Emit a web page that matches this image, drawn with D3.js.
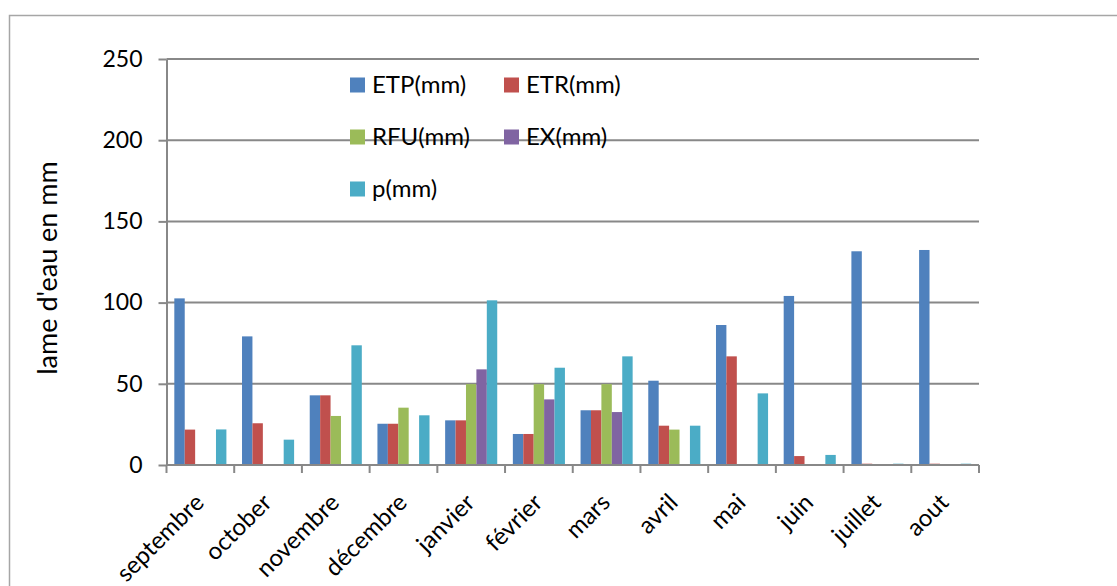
<!DOCTYPE html>
<html>
<head>
<meta charset="utf-8">
<script src="https://cdn.jsdelivr.net/npm/d3@7"></script>
<style>
  html, body { margin: 0; padding: 0; background: #fff; }
  svg { display: block; font-family: Lato, "Open Sans", sans-serif; }
</style>
</head>
<body>
<svg id="chart" width="1117" height="586"></svg>
<script>
// Monthly water balance (mm)
const months = ["septembre", "october", "novembre", "décembre", "janvier", "février",
                "mars", "avril", "mai", "juin", "juillet", "aout"];
const seriesNames = ["ETP(mm)", "ETR(mm)", "RFU(mm)", "EX(mm)", "p(mm)"];
const etp = [102.6, 79.2, 42.9, 25.4, 27.5, 19.1, 33.7, 51.9, 86.2, 104.1, 131.6, 132.4];
const etr = [21.8, 25.7, 42.9, 25.4, 27.5, 19.1, 33.7, 24.2, 66.9, 5.5, 0.8, 0.8];
const rfu = [0, 0, 30.2, 35.3, 49.8, 49.8, 49.8, 21.8, 0, 0, 0, 0];
const ex  = [0, 0, 0, 0, 58.9, 40.4, 32.6, 0, 0, 0, 0, 0];
const p   = [21.9, 15.6, 73.7, 30.6, 101.4, 59.9, 66.9, 24.2, 44.1, 6.2, 0.8, 0.8];
const yTicks = [0, 50, 100, 150, 200, 250];
const colors = ["#4F81BD", "#C0504D", "#9BBB59", "#8064A2", "#4BACC6"];
const yTitle = "lame d'eau en mm";

const seriesValues = [etp, etr, rfu, ex, p];

const svg = d3.select("#chart");
const plot = { left: 166.5, right: 979, top: 59, bottom: 465 };
const gridColor = "#888888";
const font = "Lato, 'Open Sans', sans-serif";

// outer chart frame
svg.append("rect")
  .attr("x", 9.5).attr("y", 15.5)
  .attr("width", 1200).attr("height", 700)
  .attr("fill", "none").attr("stroke", "#a6a6a6").attr("stroke-width", 1.5);

const x = d3.scaleBand().domain(months).range([plot.left, plot.right]).paddingInner(0).paddingOuter(0);
const y = d3.scaleLinear().domain([0, 250]).range([plot.bottom, plot.top]);

// bar layout inside each month: 150% gap width
const step = x.step();
const bw = step / (seriesNames.length + 1.5);
const inner = d3.scaleBand().domain(d3.range(seriesNames.length))
  .range([0.75 * bw, 0.75 * bw + bw * seriesNames.length]).padding(0);

// horizontal gridlines
svg.append("g").selectAll("line").data(yTicks.filter(d => d > 0)).join("line")
  .attr("x1", plot.left).attr("x2", plot.right)
  .attr("y1", d => y(d)).attr("y2", d => y(d))
  .attr("stroke", gridColor).attr("stroke-width", 2);

// bars
const groups = svg.append("g").selectAll("g").data(months).join("g")
  .attr("transform", d => `translate(${x(d)},0)`);
groups.selectAll("rect")
  .data((m, i) => seriesValues.map((vals, s) => ({ s, v: vals[i] })))
  .join("rect")
  .attr("x", d => inner(d.s))
  .attr("width", inner.bandwidth())
  .attr("y", d => y(d.v))
  .attr("height", d => y(0) - y(d.v))
  .attr("fill", d => colors[d.s]);

// y axis
const yAxis = svg.append("g")
  .attr("transform", `translate(${plot.left},0)`)
  .call(d3.axisLeft(y).tickValues(yTicks).tickSize(8).tickPadding(16).tickSizeOuter(0));
yAxis.select(".domain").attr("stroke", gridColor).attr("stroke-width", 2);
yAxis.selectAll(".tick line").attr("stroke", gridColor).attr("stroke-width", 2);
yAxis.selectAll(".tick text").attr("font-size", 23).attr("fill", "#000")
  .attr("font-family", font);

// x axis: boundary ticks between months
const boundaries = d3.range(months.length + 1).map(i => plot.left + i * step);
const xAxisG = svg.append("g");
xAxisG.append("line")
  .attr("x1", plot.left).attr("x2", plot.right)
  .attr("y1", plot.bottom).attr("y2", plot.bottom)
  .attr("stroke", gridColor).attr("stroke-width", 2);
xAxisG.selectAll("line.b").data(boundaries).join("line").attr("class", "b")
  .attr("x1", d => d).attr("x2", d => d)
  .attr("y1", plot.bottom).attr("y2", plot.bottom + 8)
  .attr("stroke", gridColor).attr("stroke-width", 2);

// month labels, rotated
const xLabels = svg.append("g")
  .attr("transform", `translate(0,${plot.bottom})`)
  .call(d3.axisBottom(x).tickSize(0).tickPadding(0));
xLabels.select(".domain").remove();
xLabels.selectAll(".tick text")
  .attr("font-size", 24).attr("fill", "#000")
  .attr("font-family", font)
  .attr("text-anchor", "end")
  .attr("dy", 0).attr("y", 0)
  .attr("transform", "translate(5,39) rotate(-45)");

// y title
svg.append("text")
  .attr("transform", "translate(57,268) rotate(-90)")
  .attr("text-anchor", "middle")
  .attr("font-size", 27).attr("fill", "#000")
  .text(yTitle);

// legend
const legend = svg.append("g");
const legendPos = [[350, 85], [504, 85], [350, 137], [504, 137], [350, 189]];
seriesNames.forEach((name, i) => {
  const [lx, ly] = legendPos[i];
  legend.append("rect").attr("x", lx).attr("y", ly - 7.5).attr("width", 15).attr("height", 15)
    .attr("fill", colors[i]);
  legend.append("text").attr("x", lx + 22).attr("y", ly).attr("dy", "0.35em")
    .attr("font-size", 24).attr("fill", "#000").text(name);
});
</script>
</body>
</html>
